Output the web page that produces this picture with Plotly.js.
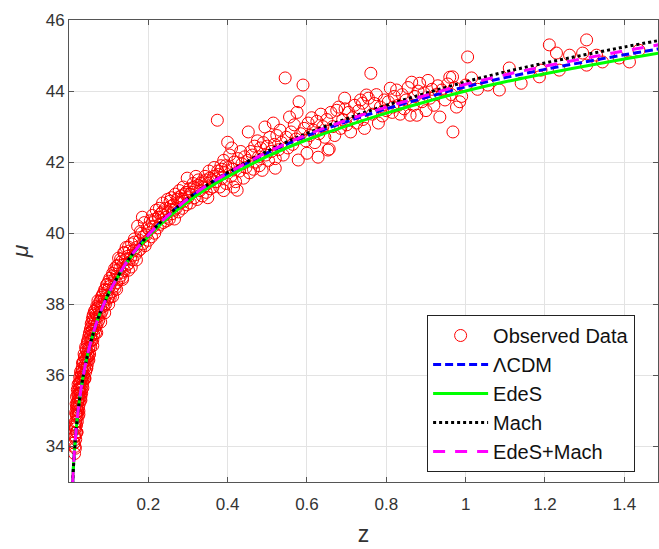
<!DOCTYPE html>
<html>
<head>
<meta charset="utf-8">
<script src="https://cdn.plot.ly/plotly-3.0.1.min.js"></script>
<style>html,body{margin:0;padding:0;background:#fff;}#chart{width:659px;height:549px;}</style>
</head>
<body>
<div id="chart"></div>
<script>
// Observed data, grouped by redshift range
const zA = [0.014,0.015,0.015,0.016,0.016,0.017,0.017,0.018,0.018,0.019,0.019,0.020,0.020,0.021,0.021,0.022,0.022,0.023,0.023,0.024,0.024,0.025,0.025,0.026,0.026,0.027,0.027,0.028,0.028,0.029,0.029,0.030,0.030,0.031,0.031,0.032,0.032,0.033,0.033,0.034,0.034,0.035,0.035,0.015,0.017,0.019,0.021,0.023,0.013,0.018];
const muA = [33.8,34.0,34.3,33.95,34.5,34.2,34.7,34.4,34.9,34.6,35.1,34.4,34.85,35.2,34.7,35.0,35.45,34.85,35.3,35.1,35.6,35.0,35.35,35.8,35.2,35.5,35.95,35.3,35.65,35.5,36.1,35.4,35.8,35.6,36.05,35.5,35.9,36.2,35.7,35.95,36.35,35.8,36.1,34.6,34.95,35.4,35.6,35.75,34.1,35.2];
const zA2 = [0.013,0.014,0.016,0.017,0.019,0.020,0.022,0.024,0.026,0.028,0.030,0.033,0.036,0.039,0.043,0.047,0.052,0.057,0.062,0.067,0.072,0.078,0.084,0.090,0.096,0.103,0.110,0.120,0.130,0.140,0.150,0.165,0.180,0.020,0.025,0.030,0.035,0.040,0.045,0.050,0.060,0.070,0.080,0.090,0.100,0.110,0.120,0.135,0.150,0.170];
const muA2 = [34.1,34.27,34.55,34.7,34.9,35.05,35.25,35.45,35.6,35.78,35.95,36.15,36.35,36.52,36.75,36.95,37.17,37.37,37.57,37.75,37.91,38.09,38.25,38.41,38.56,38.73,38.87,39.07,39.27,39.45,39.61,39.84,40.05,34.4,34.9,35.3,35.65,35.93,36.2,36.43,36.84,37.2,37.5,37.76,38.0,38.22,38.42,38.7,38.96,39.25];
const zB = [0.036,0.037,0.038,0.038,0.039,0.040,0.040,0.041,0.042,0.042,0.043,0.044,0.044,0.045,0.046,0.046,0.047,0.048,0.048,0.049,0.050,0.050,0.051,0.052,0.052,0.053,0.054,0.055,0.055,0.056,0.057,0.058,0.059,0.060,0.060,0.061,0.062,0.063,0.064,0.065,0.066,0.067,0.068,0.069,0.070,0.071,0.072,0.074,0.075,0.076,0.078,0.079,0.080,0.082,0.083,0.085,0.086,0.088,0.089,0.091,0.092,0.094,0.095,0.097,0.098,0.100,0.100,0.058,0.067,0.073];
const muB = [36.0,36.4,35.95,36.6,36.2,36.5,35.9,36.3,36.8,36.1,36.45,36.7,36.2,36.5,36.9,36.3,36.6,37.0,36.45,36.75,36.55,37.1,36.8,37.2,36.6,36.95,37.3,36.8,37.1,37.45,37.0,37.25,37.6,37.0,37.3,37.7,37.15,37.45,37.8,37.3,37.55,37.85,37.4,37.7,37.95,37.45,37.65,37.9,37.55,37.75,38.05,37.7,37.9,38.2,37.8,38.0,38.3,37.95,38.15,38.4,38.0,38.25,38.55,38.15,38.4,38.65,38.2,37.5,37.2,38.1];
const zC = [0.102,0.104,0.106,0.108,0.11,0.112,0.114,0.116,0.118,0.12,0.122,0.124,0.126,0.128,0.13,0.132,0.134,0.136,0.138,0.14,0.142,0.144,0.146,0.148,0.15,0.152,0.155,0.158,0.16,0.162,0.165,0.168,0.17,0.173,0.175,0.178,0.18,0.183,0.186,0.188,0.19,0.192,0.195,0.198,0.2,0.115,0.125,0.135,0.157,0.185];
const muC = [38.5,38.2,38.6,38.35,38.8,38.5,38.7,38.45,38.95,38.6,38.85,39.1,38.7,39.0,38.8,39.2,38.9,39.1,39.45,38.95,39.25,39.6,39.1,39.35,39.15,39.5,39.3,39.7,39.25,39.5,39.75,39.4,39.6,40.2,39.5,39.8,39.55,40.0,39.7,39.9,40.3,39.65,39.95,40.15,39.8,39.0,39.3,38.75,39.05,40.45];
const zD = [0.202,0.205,0.208,0.21,0.213,0.216,0.218,0.22,0.223,0.226,0.228,0.23,0.233,0.236,0.238,0.24,0.243,0.246,0.248,0.25,0.253,0.256,0.258,0.26,0.263,0.266,0.268,0.27,0.273,0.276,0.278,0.28,0.283,0.286,0.288,0.29,0.293,0.296,0.298,0.30,0.303,0.306,0.31,0.313,0.316,0.32,0.323,0.326,0.33,0.333,0.336,0.34,0.343,0.346,0.35,0.353,0.356,0.36,0.363,0.366,0.37,0.374,0.376,0.38,0.383,0.386,0.39,0.393,0.396,0.40,0.402,0.405,0.408,0.41,0.413,0.416,0.42,0.424,0.426,0.43,0.433,0.436,0.44,0.443,0.446,0.45,0.452,0.455,0.458,0.39,0.415,0.35,0.32];
const muD = [40.1,40.35,39.9,40.5,40.2,40.0,40.4,40.65,40.15,40.45,40.7,40.25,40.55,40.85,40.3,40.5,40.7,40.35,40.95,40.6,40.4,40.75,41.0,40.55,40.8,40.4,41.1,40.7,40.95,40.6,41.2,40.85,41.05,40.7,41.3,40.9,41.1,40.8,41.55,41.0,41.25,40.85,41.15,41.4,41.0,41.25,40.95,41.5,41.2,41.4,41.05,41.3,41.6,41.15,41.4,41.75,41.25,41.5,41.3,41.85,41.45,43.18,41.65,41.3,41.9,41.55,42.05,41.7,41.4,42.56,41.85,42.2,41.6,42.4,41.8,42.0,41.45,41.21,42.1,41.75,42.3,41.95,41.55,42.15,41.85,42.05,42.85,41.7,42.3,41.2,41.3,41.0,41.6];
const zD2 = [0.21,0.225,0.235,0.245,0.255,0.265,0.275,0.285,0.295,0.305,0.315,0.325,0.335,0.345,0.355,0.365,0.375,0.385,0.395];
const muD2 = [40.3,40.45,40.6,40.45,40.9,40.65,41.0,40.95,41.15,41.1,41.3,41.35,41.45,41.5,41.55,41.6,41.75,41.8,41.9];
const zE = [0.462,0.465,0.468,0.472,0.475,0.478,0.48,0.483,0.487,0.49,0.494,0.496,0.5,0.503,0.506,0.51,0.515,0.518,0.52,0.524,0.528,0.532,0.536,0.54,0.545,0.548,0.552,0.556,0.56,0.564,0.568,0.572,0.575,0.578,0.58,0.584,0.59,0.593,0.597,0.6,0.603,0.607,0.612,0.616,0.62,0.625,0.63,0.635,0.64,0.645,0.65,0.656,0.66,0.665,0.67,0.675,0.68,0.685,0.69,0.695,0.70,0.705,0.71,0.715,0.72,0.725,0.73,0.735,0.74,0.745,0.75,0.755,0.761,0.765,0.77,0.775,0.78,0.785,0.79,0.795,0.8,0.628,0.653,0.52,0.696,0.741];
const muE = [42.2,41.8,42.45,42.0,42.6,42.15,41.9,42.4,41.77,42.55,42.99,42.2,42.45,42.05,42.7,42.3,43.1,42.5,42.1,42.75,42.35,42.9,42.55,42.2,44.37,42.7,42.4,43.27,42.85,42.5,43.05,42.65,43.4,42.06,43.7,42.8,44.17,42.95,42.6,42.25,43.1,42.75,43.25,42.9,42.55,43.15,42.8,43.35,43.0,42.7,43.2,42.37,43.4,43.0,42.75,43.46,43.55,42.95,43.2,43.8,43.05,43.4,42.85,43.25,43.6,43.1,43.45,43.75,43.66,42.95,43.89,43.8,44.5,43.35,43.65,43.9,43.1,43.55,43.3,43.75,43.45,42.14,42.34,41.83,43.5,43.2];
const zF = [0.805,0.81,0.815,0.817,0.82,0.826,0.83,0.835,0.84,0.845,0.85,0.855,0.86,0.864,0.868,0.872,0.877,0.88,0.884,0.89,0.895,0.9,0.905,0.91,0.915,0.92,0.925,0.93,0.935,0.94,0.948,0.955,0.96,0.964,0.967,0.968,0.972,0.977,0.985,0.99,1.0,1.005,1.015,1.03,1.056,1.085,1.11,1.14,1.186,1.19,1.211,1.229,1.236,1.262,1.295,1.305,1.305,1.33,1.345,1.387,1.413,1.437];
const muF = [43.7,44.08,43.4,43.55,43.85,44.03,43.6,43.35,43.9,43.5,43.75,44.1,43.32,44.25,43.6,43.85,43.32,44.0,44.22,43.7,43.95,43.45,44.3,43.8,44.05,43.6,43.9,44.15,43.27,44.03,43.75,44.2,44.39,43.9,44.4,42.85,44.1,43.55,43.7,43.85,44.17,44.96,44.37,44.05,44.17,44.03,44.65,44.22,44.4,44.59,45.3,45.07,44.59,45.01,45.07,45.44,44.73,45.01,44.82,44.93,44.82,45.15];

// Model curves
const zModel = [0.009,0.012,0.015,0.02,0.025,0.03,0.04,0.05,0.06,0.07,0.08,0.1,0.12,0.15,0.2,0.25,0.3,0.35,0.4,0.5,0.6,0.7,0.8,0.9,1.0,1.1,1.2,1.3,1.4,1.5];
const muLCDM = [32.94,33.58,34.06,34.70,35.19,35.59,36.23,36.73,37.14,37.50,37.80,38.31,38.72,39.26,39.95,40.50,40.96,41.35,41.68,42.26,42.74,43.14,43.50,43.82,44.12,44.38,44.61,44.82,45.02,45.21];
const muEdeS = [32.94,33.58,34.06,34.70,35.19,35.59,36.23,36.73,37.14,37.50,37.80,38.31,38.71,39.24,39.91,40.44,40.89,41.27,41.59,42.16,42.63,43.02,43.38,43.70,44.00,44.26,44.49,44.70,44.90,45.09];
const muMach = [32.94,33.58,34.06,34.70,35.19,35.59,36.23,36.73,37.14,37.50,37.80,38.31,38.72,39.26,39.95,40.51,40.98,41.37,41.71,42.31,42.81,43.22,43.60,43.94,44.26,44.54,44.79,45.02,45.24,45.45];
const muEdeSMach = [32.94,33.58,34.06,34.70,35.19,35.59,36.23,36.73,37.14,37.50,37.80,38.31,38.72,39.26,39.95,40.50,40.97,41.36,41.69,42.28,42.77,43.18,43.55,43.88,44.19,44.46,44.70,44.92,45.13,45.33];

const xTicks = [0.2,0.4,0.6,0.8,1,1.2,1.4];
const xTickText = ['0.2','0.4','0.6','0.8','1','1.2','1.4'];
const yTicks = [34,36,38,40,42,44,46];

const obsZ = [].concat(zA,zA2,zB,zC,zD,zD2,zE,zF);
const obsMu = [].concat(muA,muA2,muB,muC,muD,muD2,muE,muF);

const traces = [
  {x: obsZ, y: obsMu, type:'scatter', mode:'markers', name:'Observed Data',
   marker:{symbol:'circle-open', size:12, color:'#ff0000', line:{width:1, color:'#ff0000'}}},
  {x: zModel, y: muLCDM, type:'scatter', mode:'lines', name:'ΛCDM',
   line:{color:'#0000ff', width:3, dash:'8px,4px', shape:'spline'}},
  {x: zModel, y: muEdeS, type:'scatter', mode:'lines', name:'EdeS',
   line:{color:'#00ff00', width:3, shape:'spline'}},
  {x: zModel, y: muMach, type:'scatter', mode:'lines', name:'Mach',
   line:{color:'#000000', width:3, dash:'3px,3px', shape:'spline'}},
  {x: zModel, y: muEdeSMach, type:'scatter', mode:'lines', name:'EdeS+Mach',
   line:{color:'#ff00ff', width:3, dash:'12px,10px', shape:'spline'}}
];

const font = 'Liberation Sans, Arial, Helvetica, sans-serif';
const layout = {
  width:659, height:549,
  margin:{l:69, r:1, t:20, b:67},
  paper_bgcolor:'#ffffff', plot_bgcolor:'#ffffff',
  font:{family:font, color:'#262626'},
  showlegend:true,
  xaxis:{
    range:[0,1.485], tickvals:xTicks, ticktext:xTickText,
    ticks:'inside', ticklen:5, tickcolor:'#555', showline:true, linecolor:'#555', linewidth:1,
    mirror:'ticks', showgrid:true, gridcolor:'#e3e3e3', zeroline:false,
    tickfont:{size:17, color:'#333'}, ticklabelstandoff:7,
    title:{text:'z', font:{size:23, color:'#333'}, standoff:12}
  },
  yaxis:{
    range:[33,46], tickvals:yTicks,
    ticks:'inside', ticklen:5, tickcolor:'#555', showline:true, linecolor:'#555', linewidth:1,
    mirror:'ticks', showgrid:true, gridcolor:'#e3e3e3', zeroline:false,
    tickfont:{size:17, color:'#333'},
    title:{text:'<i>μ</i>', font:{size:23, color:'#333'}, standoff:10}
  },
  legend:{
    x:0.608, y:0.3615, xanchor:'left', yanchor:'top',
    bgcolor:'#ffffff', bordercolor:'#222', borderwidth:1,
    font:{size:20, color:'#111', family:font},
    itemwidth:55
  }
};

Plotly.newPlot('chart', traces, layout, {displayModeBar:false, staticPlot:true});
</script>
</body>
</html>
